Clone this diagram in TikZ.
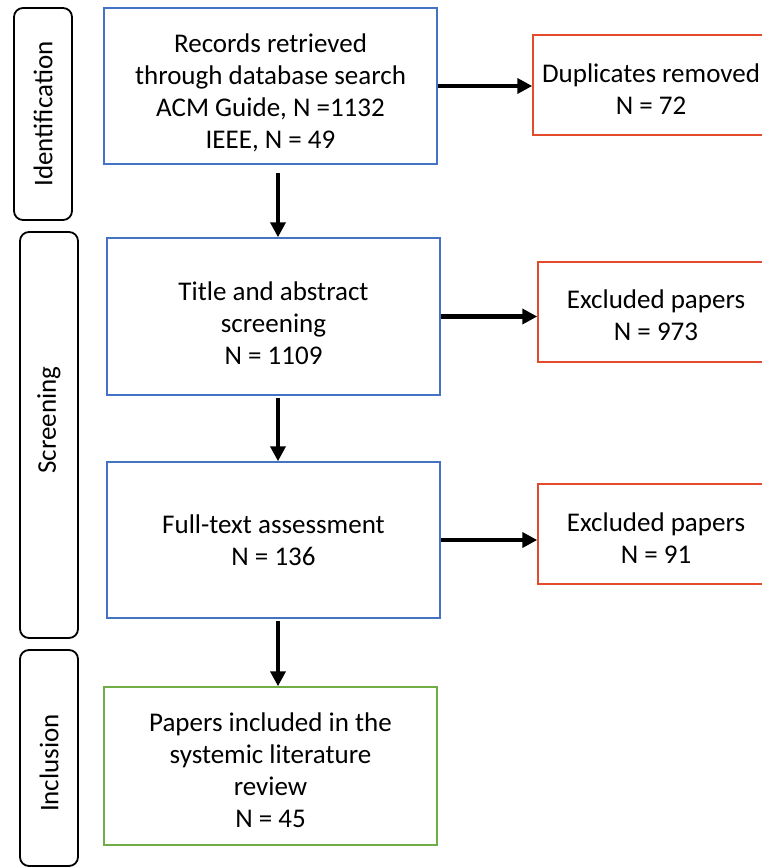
\documentclass[tikz,border=0pt]{standalone}
\usepackage{fontspec}
\setmainfont{Carlito}
\usepackage{tikz}
\usetikzlibrary{arrows.meta}
\usetikzlibrary{positioning}
\definecolor{stepblue}{RGB}{68,114,196}
\definecolor{stepred}{RGB}{228,74,44}
\definecolor{stepgreen}{RGB}{112,173,71}
\newcommand{\padtop}[1]{\rule{0pt}{#1}}

\begin{document}
\begin{tikzpicture}[x=1pt,y=-1pt,
  phase/.style={draw,line width=1.8pt,rounded corners=9pt,inner sep=0pt},
  phasetext/.style={rotate=90,inner sep=0pt,font=\fontsize{27}{32}\selectfont},
  stage/.style={draw=stepblue,line width=1.5pt,minimum width=333pt,
    align=center,inner sep=0pt,font=\fontsize{27}{32}\selectfont},
  outbox/.style={draw=stepred,line width=1.5pt,minimum width=236pt,
    minimum height=100pt,align=center,inner sep=0pt,font=\fontsize{27}{32}\selectfont},
  arr/.style={line width=4.5pt,-{Triangle[length=15pt,width=15pt]}}]
\useasboundingbox (0,0) rectangle (762,867);
\clip (0,0) rectangle (762,867);
% phases on the left
\node[phase,minimum width=58pt,minimum height=212pt] (ident) at (43,114) {};
\node[phase,minimum width=58pt,minimum height=406pt] (screen) at (49,435) {};
\node[phase,minimum width=58pt,minimum height=216pt] (incl) at (49,758) {};
\node[phasetext] (identlbl) at (ident.center) {Identification};
\node[phasetext] (screenlbl) at ([yshift=15pt]screen.center) {Screening};
\node[phasetext] (incllbl) at ([yshift=-5pt]incl.center) {Inclusion};
% main column
\node[stage,minimum height=156pt] (records) at (270.5,86)
  {\padtop{32pt}Records retrieved\\through database search\\ACM Guide, N =1132\\IEEE, N = 49};
\node[stage,minimum height=157pt] (title) at (273.5,316.5)
  {\padtop{32pt}Title and abstract\\screening\\N = 1109};
\node[stage,minimum height=156pt] (full) at (273.5,540)
  {Full-text assessment\\N = 136};
\node[stage,draw=stepgreen,minimum height=158pt] (included) at (270.5,766)
  {\padtop{28pt}Papers included in the\\systemic literature\\review\\N = 45};
% removed records
\node[outbox] (dup) at (651,85) {\padtop{26pt}Duplicates removed\\N = 72};
\node[outbox] (excl1) at (656,312) {\padtop{26pt}Excluded papers\\N = 973};
\node[outbox] (excl2) at (656,534) {\padtop{26pt}Excluded papers\\N = 91};
% arrows
\draw[arr] ([xshift=7.5pt,yshift=-8pt]records.south) -- ([xshift=4.5pt]title.north);
\draw[arr] ([xshift=4.5pt,yshift=-2pt]title.south) -- ([xshift=4.5pt]full.north);
\draw[arr] ([xshift=4.5pt,yshift=-2pt]full.south) -- ([xshift=7.5pt]included.north);
\draw[arr] (records.east) -- (records.east -| dup.west);
\draw[arr] (title.east) -- (title.east -| excl1.west);
\draw[arr] (full.east) -- (full.east -| excl2.west);
\end{tikzpicture}
\end{document}
